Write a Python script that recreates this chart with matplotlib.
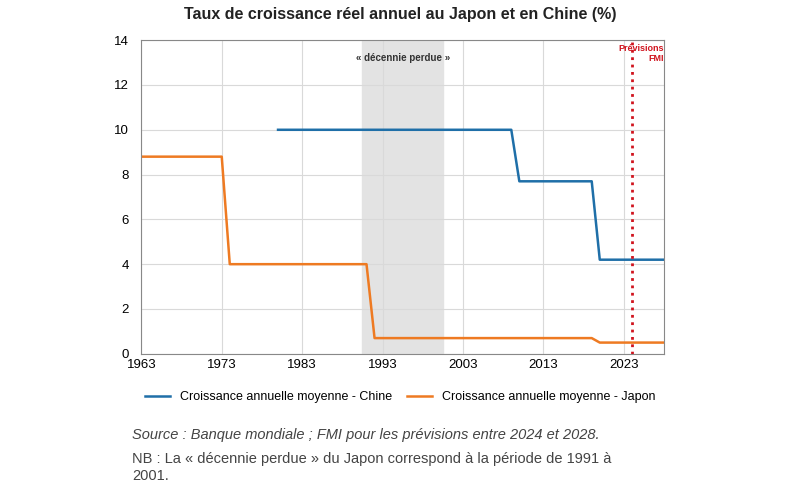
import matplotlib.pyplot as plt

# Data (step series)
years_japon = [1963, 1973, 1974, 1991, 1992, 2019, 2020, 2028]
japon = [8.8, 8.8, 4.0, 4.0, 0.7, 0.7, 0.5, 0.5]
years_chine = [1980, 2009, 2010, 2019, 2020, 2028]
chine = [10.0, 10.0, 7.7, 7.7, 4.2, 4.2]
xticks = [1963, 1973, 1983, 1993, 2003, 2013, 2023]

plt.rcParams['font.family'] = 'Liberation Sans'
fig = plt.figure(figsize=(7.85, 4.9), dpi=100)
ax = fig.add_axes([0.18, 0.278, 0.666, 0.64])

ax.axvspan(1990.5, 2000.5, color='#e3e3e3', zorder=0)
ax.plot(years_chine, chine, color='#1f6fa8', lw=1.8, label='Croissance annuelle moyenne - Chine')
ax.plot(years_japon, japon, color='#ee7a22', lw=1.8, label='Croissance annuelle moyenne - Japon')
ax.axvline(2024, color='#d0141e', lw=2, ls=':')

ax.text(1995.5, 13.2, '« décennie perdue »', ha='center', va='center', fontsize=7, fontweight='bold', color='#333333')
ax.text(2028, 13.4, 'Prévisions\nFMI', ha='right', va='center', fontsize=6.5, fontweight='bold', color='#d0141e', linespacing=1.1)

ax.set_xlim(1963, 2028)
ax.set_ylim(0, 14)
ax.set_xticks(xticks)
ax.set_yticks(range(0, 15, 2))
ax.grid(True, color='#d9d9d9', lw=0.8)
ax.set_axisbelow(True)
for s in ax.spines.values():
    s.set_color('#888888')
ax.tick_params(length=0, labelsize=9.5)
ax.tick_params(axis='x', pad=4)
ax.tick_params(axis='y', pad=9)

fig.suptitle('Taux de croissance réel annuel au Japon et en Chine (%)', x=0.51, y=0.985, fontsize=11.5, fontweight='bold', color='#222222')
fig.legend(loc='center', bbox_to_anchor=(0.51, 0.19), ncol=2, frameon=False, fontsize=9, handlelength=2, columnspacing=1.2)

fig.text(0.168, 0.105, 'Source : Banque mondiale ; FMI pour les prévisions entre 2024 et 2028.', fontsize=10.5, style='italic', color='#444444')
fig.text(0.168, 0.02, 'NB : La « décennie perdue » du Japon correspond à la période de 1991 à\n2001.', fontsize=10.5, color='#444444', linespacing=1.3)

fig.savefig('out.png', dpi=100)
